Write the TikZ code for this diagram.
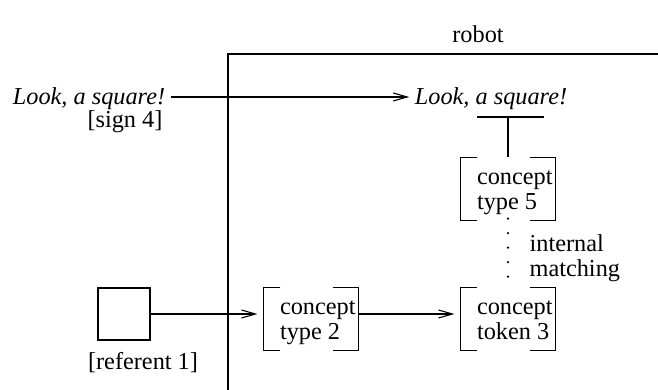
\documentclass[tikz,border=0pt]{standalone}
\usepackage{fontspec}
\setmainfont{Liberation Serif}
\usetikzlibrary{arrows.meta}
\begin{document}
\begin{tikzpicture}[x=1pt,y=-1pt,line width=1.2pt,
  every node/.style={font=\fontsize{24.3}{25}\selectfont, inner sep=2pt},
  label/.style={anchor=base},
  cbox/.style={minimum width=94pt, minimum height=62pt, inner sep=0pt},
  ctext/.style={anchor=base west, align=left, inner sep=0pt},
  arr/.style={-{Straight Barb[length=14pt,width=8pt,line width=1.1pt]}},
  dots/.style={line width=2.6pt, line cap=round, dash pattern=on 0pt off 14.5pt}]
\useasboundingbox (0,0) rectangle (658,390);

% robot boundary
\node[label] (robot) at (478,43) {robot};
\draw (658,54) -| (228,390);

% the sign outside and its internal copy
\node[label] (lookL) at (89,105) {\itshape Look, a square!};
\node[label] (sign) at (125,128) {[sign 4]};
\node[label] (lookR) at (491,105) {\itshape Look, a square!};
\draw[arr, shorten <=3pt, shorten >=3pt] ([yshift=8]lookL.base east) -- ([yshift=8]lookR.base west);

% referent
\node[draw, minimum size=52pt, inner sep=0pt] (ref) at (124,314) {};
\node[label] (reft) at (143,369) {[referent 1]};

% concept boxes with brackets (text anchored on the baseline of its last line)
\newcommand\conceptbrackets[1]{%
  \draw ([xshift=17]#1.north west) -| (#1.south west) -- ++(17,0);
  \draw ([xshift=-26]#1.north east) -| (#1.south east) -- ++(-26,0);}
\node[cbox] (c2) at (311,319) {};
\conceptbrackets{c2}
\node[ctext] (c2t) at ([shift={(16,52)}]c2.north west) {concept\\type 2};

\node[cbox] (c3) at (508,319) {};
\conceptbrackets{c3}
\node[ctext] (c3t) at ([shift={(16,52)}]c3.north west) {concept\\token 3};

\node[cbox] (c5) at (508,189) {};
\conceptbrackets{c5}
\node[ctext] (c5t) at ([shift={(16,52)}]c5.north west) {concept\\type 5};

% connectors
\draw[arr, shorten >=6pt] (ref.east) -- (ref.east -| c2.west);
\draw[arr, shorten >=6pt] (ref.east -| c2.east) -- (ref.east -| c3.west);
\coordinate (ul) at (508,117);
\draw ([xshift=-31]ul) -- ([xshift=36]ul);
\draw (ul) -- (c5.north);
\draw[dots] ([yshift=2]c5.south) -- ([yshift=-2]c3.north);
\node[ctext] (im) at (529,276) {internal\\matching};
\end{tikzpicture}
\end{document}
